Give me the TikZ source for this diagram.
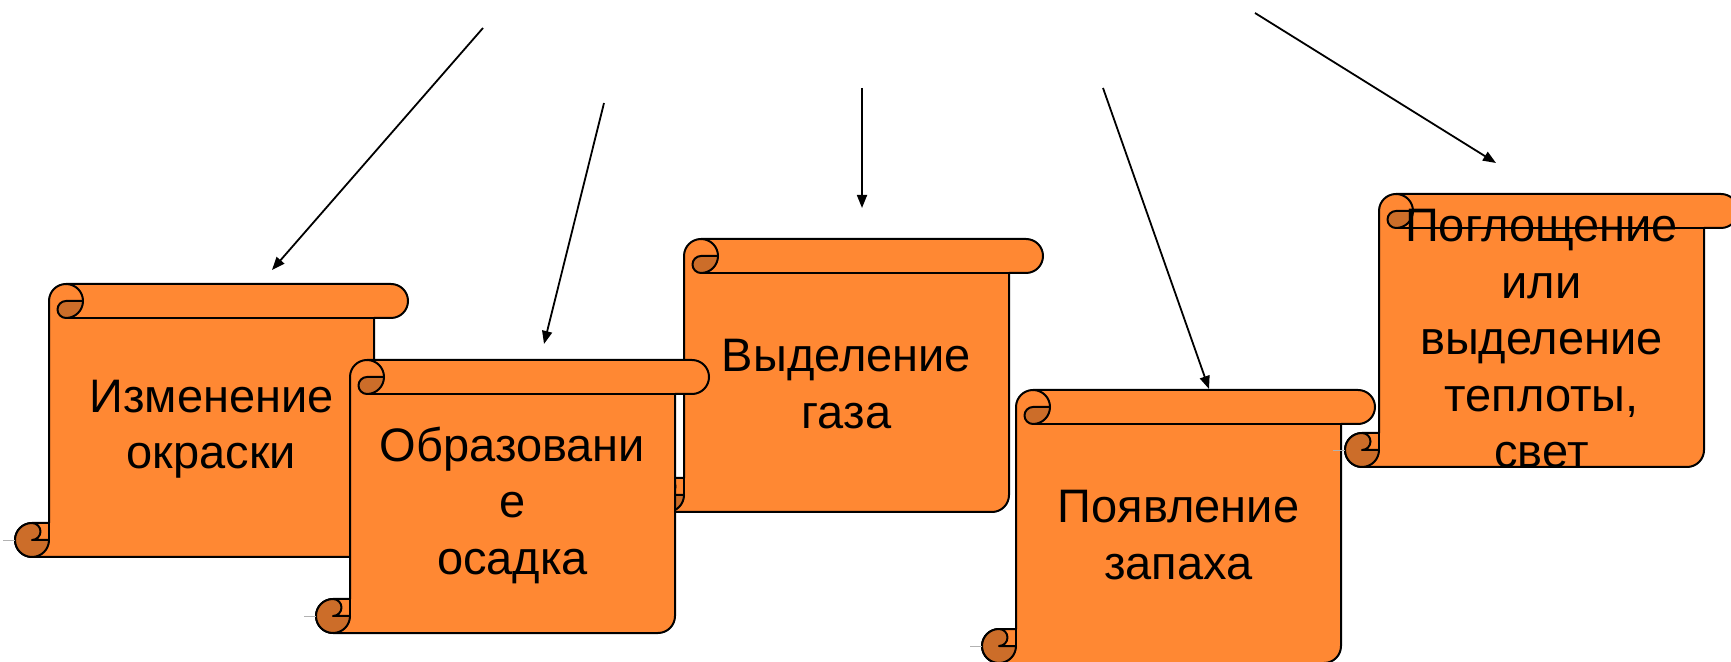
\documentclass[tikz,border=0pt]{standalone}
\usepackage{fontspec}
\setmainfont{Liberation Sans}
\usetikzlibrary{arrows.meta}
\definecolor{scrollorange}{RGB}{255,136,51}
\definecolor{curlorange}{RGB}{204,109,41}
\tikzset{
    scrolltext/.style={align=center,font=\fontsize{47}{56.5}\selectfont},
    scrollline/.style={line width=2pt,line join=round},
    arrowline/.style={line width=1.8pt,-{Triangle[length=13pt,width=10pt]}},
    scroll/.pic={
      % body with top and bottom rolls
      \filldraw[scrollline,fill=scrollorange] (34,34) -- (34,256)
        arc[start angle=180,end angle=90,radius=17] -- (376,273)
        arc[start angle=90,end angle=-90,radius=17] -- (359,239) -- (359,17)
        arc[start angle=0,end angle=-90,radius=17] -- (17,0)
        arc[start angle=-90,end angle=-270,radius=17] -- cycle;
      % curls
      \filldraw[scrollline,fill=curlorange] (68,256)
        arc[start angle=0,end angle=-90,radius=17]
        arc[start angle=-90,end angle=-270,radius=8.5] -- cycle;
      \filldraw[scrollline,fill=curlorange] (34,17)
        arc[start angle=0,end angle=-270,radius=17]
        arc[start angle=90,end angle=-90,radius=8.5] -- cycle;
      \draw[scrollline] (51,273) arc[start angle=90,end angle=0,radius=17];
      \draw[scrollline] (51,239) -- (359,239);
      \draw[scrollline] (34,34) -- (34,17);
      \draw[gray!60,line width=0.6pt] (-12,17) -- (0,17);
      \node[scrolltext] (-label) at (196.5,128) {#1};
    }
}

\begin{document}
\begin{tikzpicture}[x=1pt,y=1pt]
    \useasboundingbox (0,0) rectangle (1731,661);
    \clip (0,0) rectangle (1731,661);
    \pic (okraska) at (15,104) {scroll={Изменение\\окраски}};
    \pic (gaz) at (650,149) {scroll={Выделение\\газа}};
    \pic (osadok) at (316,28) {scroll={Образовани\\е\\осадка}};
    \pic (zapah) at (982,-2) {scroll={Появление\\запаха}};
    \pic (teplota) at (1345,194) {scroll={Поглощение\\или\\выделение\\теплоты,\\свет}};
    \coordinate (t1) at (483,633);
    \coordinate (h1) at (272,391);
    \coordinate (t2) at (604,558);
    \coordinate (h2) at (544,317);
    \coordinate (t3) at (862,573);
    \coordinate (h3) at (862,453);
    \coordinate (t4) at (1103,573);
    \coordinate (h4) at (1209,272);
    \coordinate (t5) at (1255,648);
    \coordinate (h5) at (1496,498);
    \draw[arrowline] (t1) -- (h1);
    \draw[arrowline] (t2) -- (h2);
    \draw[arrowline] (t3) -- (h3);
    \draw[arrowline] (t4) -- (h4);
    \draw[arrowline] (t5) -- (h5);
\end{tikzpicture}
\end{document}
